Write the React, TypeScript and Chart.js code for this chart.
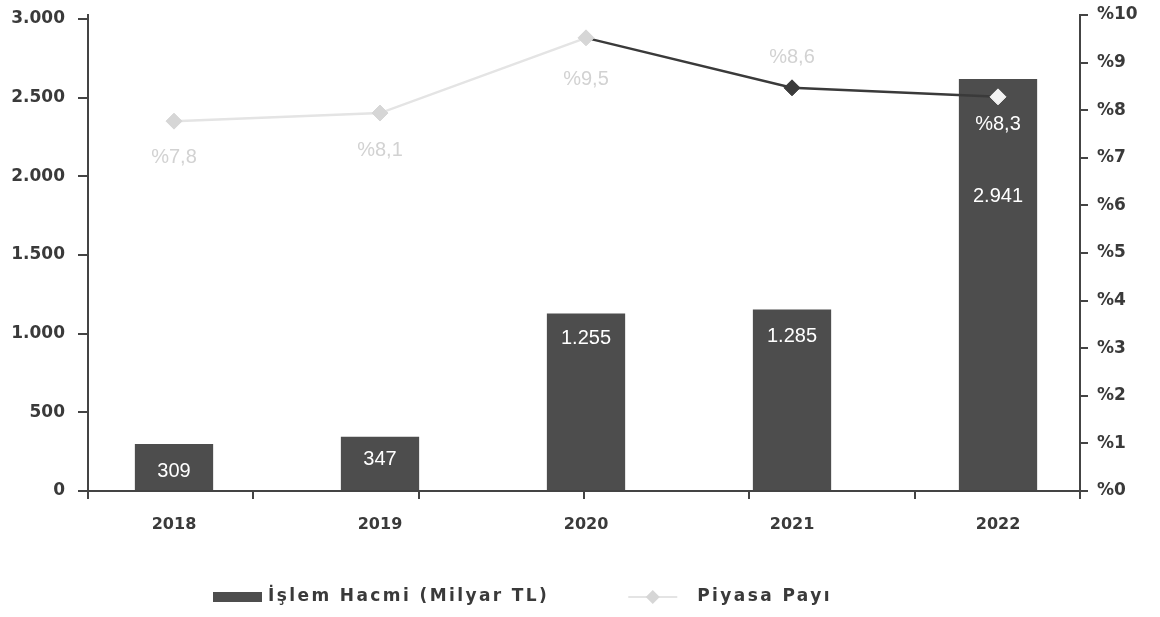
import { useEffect, useRef } from "react";
import { Chart, registerables } from "chart.js";

Chart.register(...registerables);

// ---- data ----
const years = ["2018", "2019", "2020", "2021", "2022"];
const volumeValues = [299, 345, 1128, 1153, 2618];
const volumeLabels = ["309", "347", "1.255", "1.285", "2.941"];
const shareValues = [7.77, 7.94, 9.52, 8.47, 8.28];
const shareLabels = ["%7,8", "%8,1", "%9,5", "%8,6", "%8,3"];
const leftTickValues = [0, 500, 1000, 1500, 2000, 2500, 3000];
const rightTickValues = [0, 1, 2, 3, 4, 5, 6, 7, 8, 9, 10];
const volumeSeriesName = "İşlem Hacmi (Milyar TL)";
const shareSeriesName = "Piyasa Payı";

// ---- styles ----
const BAR_COLOR = "#4d4d4d";
const AXIS_COLOR = "#444444";
const TEXT_COLOR = "#3a3a3a";
const LIGHT_LINE = "#e4e4e4";
const LIGHT_MARK = "#d6d6d6";
const DARK_LINE = "#3a3a3a";
const LIGHT_TEXT = "#d2d2d2";

const fmtThousands = (v: number) =>
  String(Math.round(v)).replace(/\B(?=(\d{3})+(?!\d))/g, ".");

const labelPlugin = {
  id: "valueLabels",
  afterDatasetsDraw(chart: any) {
    const ctx = chart.ctx;
    const barOffsets = [28, 23, 25, 27, 117];
    const lineOffsets = [36, 37, 42, -30, 28];
    ctx.save();
    ctx.textAlign = "center";
    ctx.textBaseline = "middle";
    ctx.font = '20px "Liberation Sans"';
    const barMeta = chart.getDatasetMeta(1);
    barMeta.data.forEach((el: any, i: number) => {
      ctx.fillStyle = "#ffffff";
      ctx.fillText(volumeLabels[i], el.x, el.y + barOffsets[i]);
    });
    const lineMeta = chart.getDatasetMeta(0);
    lineMeta.data.forEach((el: any, i: number) => {
      ctx.fillStyle = i === 4 ? "#ffffff" : LIGHT_TEXT;
      ctx.fillText(shareLabels[i], el.x, el.y + lineOffsets[i]);
    });
    ctx.restore();
  },
};

const legendPlugin = {
  id: "customLegend",
  afterDraw(chart: any) {
    const ctx = chart.ctx;
    const y = 597;
    const x0 = chart.chartArea.left + 125;
    ctx.save();
    ctx.font = 'bold 17px "DejaVu Sans"';
    (ctx as any).letterSpacing = "2.4px";
    ctx.textBaseline = "middle";
    ctx.textAlign = "left";
    // bar item
    ctx.fillStyle = BAR_COLOR;
    ctx.fillRect(x0, y - 5, 49, 10);
    ctx.fillStyle = TEXT_COLOR;
    const t0 = chart.data.datasets[1].label;
    ctx.fillText(t0, x0 + 55, y);
    const w0 = ctx.measureText(t0).width;
    // line item
    const x1 = x0 + 55 + w0 + 79;
    ctx.strokeStyle = LIGHT_LINE;
    ctx.lineWidth = 2;
    ctx.beginPath();
    ctx.moveTo(x1, y);
    ctx.lineTo(x1 + 49, y);
    ctx.stroke();
    ctx.fillStyle = LIGHT_MARK;
    ctx.beginPath();
    const cx = x1 + 24.5;
    ctx.moveTo(cx, y - 7);
    ctx.lineTo(cx + 7, y);
    ctx.lineTo(cx, y + 7);
    ctx.lineTo(cx - 7, y);
    ctx.closePath();
    ctx.fill();
    ctx.fillStyle = TEXT_COLOR;
    ctx.fillText(chart.data.datasets[0].label, x1 + 69, y);
    ctx.restore();
  },
};

export default function App() {
  const ref = useRef<HTMLCanvasElement | null>(null);

  useEffect(() => {
    if (!ref.current) return;
    const chart = new Chart(ref.current, {
      type: "bar",
      data: {
        datasets: [
          {
            type: "line",
            label: shareSeriesName,
            data: shareValues.map((v, i) => ({ x: i, y: v })),
            yAxisID: "y1",
            xAxisID: "x",
            order: 0,
            borderWidth: 2.5,
            borderColor: DARK_LINE,
            segment: {
              borderColor: (c: any) => (c.p0DataIndex >= 2 ? DARK_LINE : LIGHT_LINE),
            },
            pointStyle: "rectRot",
            pointRadius: 8,
            pointBorderWidth: 1,
            pointBackgroundColor: [LIGHT_MARK, LIGHT_MARK, LIGHT_MARK, DARK_LINE, "#f4f4f4"],
            pointBorderColor: [LIGHT_MARK, LIGHT_MARK, LIGHT_MARK, DARK_LINE, "#f4f4f4"],
            tension: 0,
          } as any,
          {
            type: "bar",
            label: volumeSeriesName,
            data: volumeValues.map((v, i) => ({ x: i, y: v })),
            yAxisID: "y",
            xAxisID: "x",
            order: 1,
            backgroundColor: BAR_COLOR,
            borderWidth: 0,
            categoryPercentage: 1,
            barPercentage: 0.38,
          } as any,
        ],
      },
      options: {
        animation: false,
        responsive: false,
        devicePixelRatio: 1,
        events: [],
        layout: { padding: { left: 0, right: 0, top: 15, bottom: 66 } },
        plugins: {
          legend: { display: false },
          tooltip: { enabled: false },
        },
        scales: {
          xt: {
            type: "linear",
            position: "bottom",
            weight: -10,
            bounds: "data",
            offset: false,
            min: 0,
            max: 6,
            ticks: { display: false, stepSize: 1 },
            grid: {
              display: true,
              offset: false,
              drawOnChartArea: false,
              drawTicks: true,
              tickLength: 8,
              color: AXIS_COLOR,
              lineWidth: 2,
            },
            border: { display: false },
            afterFit: (s: any) => {
              s.height = 0;
              s.paddingLeft = 0;
              s.paddingRight = 0;
            },
          },
          x: {
            type: "linear",
            position: "bottom",
            weight: 10,
            bounds: "data",
            offset: false,
            min: -0.4175,
            max: 4.398,
            ticks: {
              stepSize: 1,
              includeBounds: false,
              padding: 24,
              color: TEXT_COLOR,
              font: { family: "DejaVu Sans", weight: "bold", size: 16 },
              callback: (v: any) =>
                Number.isInteger(v) && years[v] !== undefined ? years[v] : "",
            },
            afterBuildTicks: (s: any) => {
              s.ticks = years.map((_, i) => ({ value: i }));
            },
            grid: { display: false, offset: false, drawTicks: false },
            border: { display: true, color: AXIS_COLOR, width: 2 },
            afterFit: (s: any) => {
              s.height = 60;
              s.paddingLeft = 0;
              s.paddingRight = 0;
            },
          },
          y: {
            type: "linear",
            position: "left",
            bounds: "data",
            min: 0,
            max: 3025,
            ticks: {
              padding: 13,
              color: TEXT_COLOR,
              font: { family: "DejaVu Sans", weight: "bold", size: 17 },
              callback: (v: any) => fmtThousands(Number(v)),
            },
            afterBuildTicks: (s: any) => {
              s.ticks = leftTickValues.map((v) => ({ value: v }));
            },
            grid: {
              drawOnChartArea: false,
              drawTicks: true,
              tickLength: 10,
              color: AXIS_COLOR,
              lineWidth: 2,
            },
            border: { display: true, color: AXIS_COLOR, width: 2 },
            afterFit: (s: any) => {
              s.width = 88;
              s.paddingTop = 0;
              s.paddingBottom = 0;
            },
          },
          y1: {
            type: "linear",
            position: "right",
            bounds: "data",
            min: 0,
            max: 10,
            ticks: {
              padding: 9,
              color: TEXT_COLOR,
              font: { family: "DejaVu Sans", weight: "bold", size: 17 },
              callback: (v: any) => "%" + v,
            },
            afterBuildTicks: (s: any) => {
              s.ticks = rightTickValues.map((v) => ({ value: v }));
            },
            grid: {
              drawOnChartArea: false,
              drawTicks: true,
              tickLength: 8,
              color: AXIS_COLOR,
              lineWidth: 2,
            },
            border: { display: true, color: AXIS_COLOR, width: 2 },
            afterFit: (s: any) => {
              s.width = 80;
              s.paddingTop = 0;
              s.paddingBottom = 0;
            },
          },
        },
      } as any,
      plugins: [labelPlugin, legendPlugin],
    });
    return () => chart.destroy();
  }, []);

  return (
    <div style={{ position: "absolute", left: 0, top: 0, width: 1160, height: 617, background: "#fff" }}>
      <canvas ref={ref} width={1160} height={617} style={{ display: "block" }} />
    </div>
  );
}
